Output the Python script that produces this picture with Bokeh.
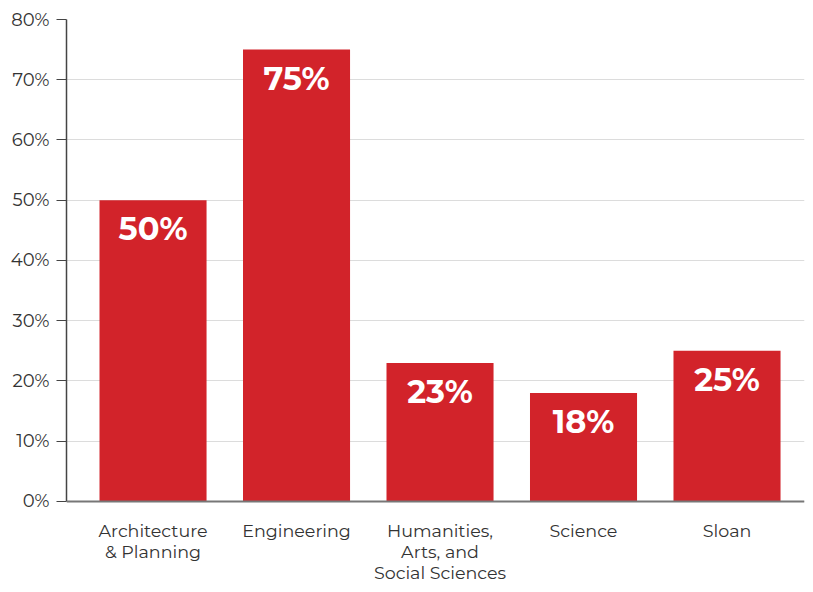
from bokeh.plotting import figure
from bokeh.models import ColumnDataSource, FixedTicker, Range1d, Span
from bokeh.core.properties import value
from bokeh.embed import file_html
from bokeh.resources import INLINE

categories = ["Architecture\n& Planning", "Engineering", "Humanities,\nArts, and\nSocial Sciences", "Science", "Sloan"]
values = [50, 75, 23, 18, 25]
labels = ["50%", "75%", "23%", "18%", "25%"]
y_ticks = [0, 10, 20, 30, 40, 50, 60, 70, 80]

FONT = "Montserrat, Lato, sans-serif"

xs = list(range(len(categories)))
src = ColumnDataSource(dict(x=xs, top=values, label=labels, cat=categories, zero=[0] * len(xs)))

p = figure(width=805, height=584, output_backend="svg", toolbar_location=None,
           x_range=Range1d(-0.603, 4.540), y_range=Range1d(-13.78, 80),
           x_axis_location=None,
           min_border_left=66, min_border_right=1, min_border_top=19, min_border_bottom=0)
p.outline_line_color = None
p.background_fill_color = "white"

p.vbar(x="x", top="top", width=0.746, bottom=0, source=src, color="#d2232a", line_color=None)
p.text(x="x", y="top", text="label", source=src, text_color="white",
       text_font=value(FONT), text_font_style="bold", text_font_size="32px",
       text_align="center", text_baseline="top", y_offset=9)

# category labels below the baseline
p.text(x="x", y="zero", text="cat", source=src, text_color="#333333",
       text_font=value(FONT), text_font_size="17.5px", text_line_height=1.0,
       text_align="center", text_baseline="top", y_offset=19)

p.add_layout(Span(location=0, dimension="width", line_color="#777777", line_width=2))

p.xgrid.visible = False
p.ygrid.grid_line_color = "#dcdcdc"
p.ygrid.grid_line_width = 1

p.yaxis.ticker = FixedTicker(ticks=y_ticks)
p.yaxis.bounds = (0, 80)
p.yaxis.major_label_overrides = {t: f"{t}%" for t in y_ticks}
p.yaxis.minor_tick_line_color = None
p.yaxis.major_tick_out = 10
p.yaxis.major_tick_in = 0
p.yaxis.major_tick_line_color = "#444444"
p.yaxis.axis_line_color = "#444444"
p.yaxis.axis_line_width = 1.5
p.yaxis.major_label_text_font = FONT
p.yaxis.major_label_text_font_size = "18px"
p.yaxis.major_label_text_color = "#333333"
p.yaxis.major_label_standoff = 7

open("out.html", "w").write(file_html(p, INLINE))
